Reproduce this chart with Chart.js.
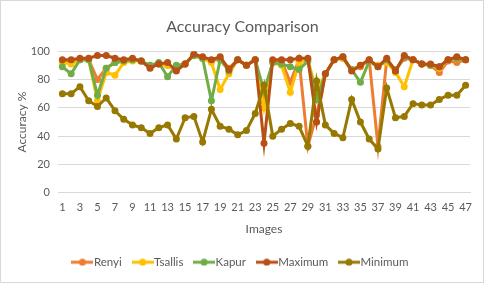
<!DOCTYPE html>
<html>
<head>
<meta charset="utf-8">
<script src="https://cdn.jsdelivr.net/npm/chart.js@4"></script>
<style>
  html, body { margin: 0; padding: 0; background: #fff; }
  #wrap { width: 482px; height: 281px; border: 1px solid #d9d9d9; }
</style>
</head>
<body>
<div id="wrap"><canvas id="lineChart" width="482" height="281"></canvas></div>
<script>
const images = ['1','2','3','4','5','6','7','8','9','10','11','12','13','14','15','16',
    '17','18','19','20','21','22','23','24','25','26','27','28','29','30','31','32',
    '33','34','35','36','37','38','39','40','41','42','43','44','45','46','47'];

const renyi = [93,93,94,94,80,88,92,93,94,93,89,91,90,87,91,97,95,93,95,88,94,90,94,65,93,93,78,94,33,55,84,94,95,87,89,94,33,94,87,95,94,91,90,85,93,92,94];
const tsallis = [92,91,94,94,65,85,83,92,93,93,89,91,90,87,91,97,95,92,73,84,94,90,94,60,92,90,71,92,94,72,84,94,95,87,90,93,90,92,85,75,94,91,90,88,94,95,94];
const kapur = [89,84,94,94,69,88,92,93,94,93,90,92,82,90,91,97,95,65,94,86,94,90,94,72,92,91,89,87,93,66,84,94,96,87,78,93,89,94,86,96,94,91,90,89,94,95,94];
const maximum = [94,94,95,95,97,97,95,94,95,93,88,91,92,86,91,98,96,94,96,87,94,90,94,35,94,94,94,95,95,50,84,94,96,86,90,94,89,95,86,97,94,91,91,89,94,96,94];
const minimum = [70,70,75,65,61,67,58,52,48,46,42,46,48,38,53,54,36,59,47,45,41,44,56,76,40,45,49,47,33,79,48,42,39,66,50,38,31,74,53,54,63,62,62,66,69,69,76];

const yTicks = [0, 20, 40, 60, 80, 100];

const names = ['Renyi', 'Tsallis', 'Kapur', 'Maximum', 'Minimum'];
const colors = ['#ED7D31', '#FFC000', '#70AD47', '#B84F14', '#977800'];
const series = [renyi, tsallis, kapur, maximum, minimum];

// legend marker: short line with a dot in the middle, like the office style
function legendMark(color) {
    const c = document.createElement('canvas');
    c.width = 22; c.height = 8;
    const ctx = c.getContext('2d');
    ctx.strokeStyle = color;
    ctx.lineWidth = 3;
    ctx.beginPath();
    ctx.moveTo(0, 4); ctx.lineTo(22, 4);
    ctx.stroke();
    ctx.fillStyle = color;
    ctx.beginPath();
    ctx.arc(11, 4, 3.5, 0, Math.PI * 2);
    ctx.fill();
    return c;
}

const marks = colors.map(legendMark);

const data = {
    labels: images,
    datasets: series.map((vals, i) => ({
        label: names[i],
        data: vals,
        borderColor: colors[i],
        backgroundColor: colors[i],
        borderWidth: 3,
        pointRadius: 3.5,
        pointBorderWidth: 0,
        pointHoverRadius: 4,
        tension: 0,
        order: 5 - i
    }))
};

const font = { family: 'Lato, "Open Sans", sans-serif' };

const config = {
    type: 'line',
    data: data,
    options: {
        responsive: false,
        animation: false,
        layout: { padding: { left: 14, right: 13, top: 12, bottom: 4 } },
        plugins: {
            title: {
                display: true,
                text: 'Accuracy Comparison',
                color: '#595959',
                font: { family: font.family, size: 16, weight: 'normal' },
                padding: { top: 4, bottom: 15 }
            },
            legend: {
                position: 'bottom',
                labels: {
                    color: '#595959',
                    font: { family: font.family, size: 11.5 },
                    usePointStyle: true,
                    boxWidth: 22,
                    boxHeight: 8,
                    padding: 15,
                    generateLabels: (chart) => chart.data.datasets.map((ds, i) => ({
                        text: ds.label,
                        fontColor: '#595959',
                        pointStyle: marks[i],
                        datasetIndex: i,
                        hidden: false,
                        lineWidth: 0,
                        strokeStyle: 'transparent',
                        fillStyle: colors[i]
                    }))
                }
            },
            tooltip: { enabled: false }
        },
        scales: {
            x: {
                offset: true,
                grid: { display: false, drawTicks: false },
                border: { display: true, color: '#d9d9d9' },
                ticks: {
                    color: '#595959',
                    font: { family: font.family, size: 11 },
                    autoSkip: false,
                    maxRotation: 0,
                    padding: 8,
                    callback: function (v, i) { return i % 2 === 0 ? images[i] : ''; }
                },
                title: {
                    display: true,
                    text: 'Images',
                    color: '#595959',
                    font: { family: font.family, size: 12 },
                    padding: { top: 0, bottom: 5 }
                }
            },
            y: {
                min: yTicks[0],
                max: yTicks[yTicks.length - 1],
                grid: { color: '#d9d9d9', drawTicks: false },
                border: { display: false },
                afterBuildTicks: (scale) => { scale.ticks = yTicks.map(v => ({ value: v })); },
                afterFit: (scale) => { scale.width = 43; },
                ticks: {
                    color: '#595959',
                    font: { family: font.family, size: 11 },
                    padding: 8
                },
                title: {
                    display: true,
                    text: 'Accuracy %',
                    color: '#595959',
                    font: { family: font.family, size: 12 },
                    padding: { top: 0, bottom: 4 }
                }
            }
        }
    }
};

const myChart = new Chart(document.getElementById('lineChart'), config);
</script>
</body>
</html>
